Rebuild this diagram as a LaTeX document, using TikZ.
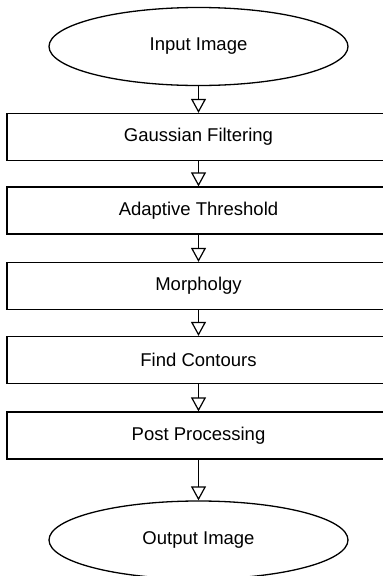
\documentclass[tikz,border=0pt]{standalone}
\usepackage{fontspec}
\setmainfont{Liberation Sans}
\usetikzlibrary{shapes.geometric,arrows.meta}
\begin{document}
\begin{tikzpicture}[x=1pt,y=-1pt,
  line width=1.3pt,
  every node/.style={font=\fontsize{18.5}{22}\selectfont},
  terminal/.style={draw, ellipse, minimum width=299pt, minimum height=78pt, inner sep=0pt},
  stepbox/.style={draw, rectangle, minimum width=383pt, minimum height=47pt, inner sep=0pt},
  flow/.style={-{Triangle[open,length=14pt,width=15pt]}, line width=1.2pt}
]
\useasboundingbox (0,0) rectangle (383,576);
\clip (0,0) rectangle (383,576);
\node[terminal] (in) at (198.5,46.5) {Input Image};
\node[stepbox] (s1) at (198.5,137) {Gaussian Filtering};
\node[stepbox] (s2) at (198.5,210.5) {Adaptive Threshold};
\node[stepbox] (s3) at (198.5,286) {Morpholgy};
\node[stepbox] (s4) at (198.5,360) {Find Contours};
\node[stepbox] (s5) at (198.5,435.5) {Post Processing};
\node[terminal] (out) at (198.5,540) {Output Image};
\draw[flow] (in) -- (s1);
\draw[flow] (s1) -- (s2);
\draw[flow] (s2) -- (s3);
\draw[flow] (s3) -- (s4);
\draw[flow] (s4) -- (s5);
\draw[flow] (s5) -- (out);
\end{tikzpicture}
\end{document}
